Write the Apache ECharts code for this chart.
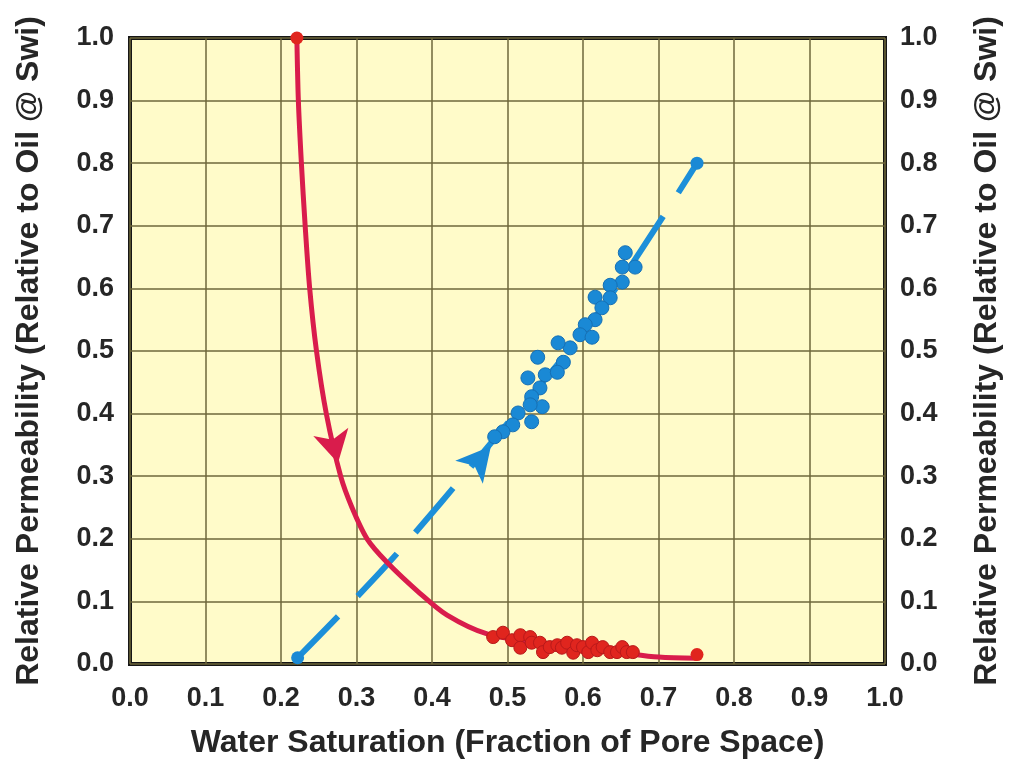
<!DOCTYPE html>
<html>
<head>
<meta charset="utf-8">
<script src="https://cdn.jsdelivr.net/npm/echarts@6/dist/echarts.min.js"></script>
<style>
    html, body { margin: 0; padding: 0; background: #ffffff; }
    #relperm { width: 1009px; height: 766px; }
</style>
</head>
<body>
<div id="relperm"></div>
<script>
// oil (red) curve [Sw, kr]
var oilCurve = [[0.221, 1.0], [0.223, 0.9], [0.227, 0.8], [0.232, 0.7], [0.238, 0.6], [0.247, 0.5],
    [0.260, 0.4], [0.279, 0.3], [0.294, 0.25], [0.314, 0.20], [0.340, 0.163], [0.384, 0.113],
    [0.420, 0.078], [0.473, 0.048], [0.55, 0.032], [0.65, 0.018], [0.70, 0.011], [0.751, 0.009]];
var oilEnds = [[0.221, 1.0], [0.751, 0.015]];
var oilPoints = [[0.481, 0.043], [0.494, 0.050], [0.506, 0.038], [0.517, 0.046], [0.517, 0.026],
    [0.530, 0.043], [0.532, 0.034], [0.543, 0.034], [0.547, 0.019], [0.556, 0.027], [0.566, 0.030],
    [0.572, 0.026], [0.579, 0.034], [0.587, 0.018], [0.592, 0.030], [0.600, 0.027], [0.607, 0.019],
    [0.612, 0.034], [0.619, 0.022], [0.626, 0.027], [0.636, 0.019], [0.645, 0.019], [0.652, 0.027],
    [0.658, 0.019], [0.666, 0.019]];
// water (blue) line and points
var waterLine = [[0.222, 0.01], [0.34, 0.158], [0.483, 0.36], [0.62, 0.56], [0.751, 0.80]];
var waterEnds = [[0.222, 0.01], [0.751, 0.80]];
var waterPoints = [[0.656, 0.657], [0.669, 0.634], [0.652, 0.634], [0.652, 0.610], [0.636, 0.605],
    [0.616, 0.586], [0.636, 0.585], [0.625, 0.569], [0.616, 0.550], [0.603, 0.542], [0.596, 0.526],
    [0.612, 0.522], [0.583, 0.505], [0.567, 0.513], [0.574, 0.482], [0.540, 0.490], [0.550, 0.462],
    [0.566, 0.466], [0.527, 0.457], [0.543, 0.441], [0.532, 0.427], [0.546, 0.411], [0.530, 0.414],
    [0.514, 0.401], [0.532, 0.387], [0.507, 0.382], [0.494, 0.371], [0.483, 0.363]];
// arrow heads along each curve (tip positions)
var oilArrow = [[0.2755, 0.321]];
var waterArrow = [[0.478, 0.348]];

var FONT = '"Liberation Sans", Arial, sans-serif';
var textColor = '#262626';

var chart = echarts.init(document.getElementById('relperm'));

function tickLabel(v) {
    return v.toFixed(1);
}

var yName = 'Relative Permeability (Relative to Oil @ Swi)';

var option = {
    animation: false,
    backgroundColor: '#ffffff',
    grid: {
        left: 130,
        right: 124,
        top: 38,
        bottom: 102,
        show: true,
        backgroundColor: '#FFFBC9',
        borderColor: '#161616',
        borderWidth: 4,
        outerBoundsMode: 'none'
    },
    xAxis: {
        type: 'value',
        min: 0,
        max: 1,
        interval: 0.1,
        name: 'Water Saturation (Fraction of Pore Space)',
        nameLocation: 'middle',
        nameGap: 63,
        nameTextStyle: { color: textColor, fontSize: 32, fontWeight: 'bold', fontFamily: FONT },
        axisLine: { show: false },
        axisTick: { show: false },
        axisLabel: { margin: 21, color: textColor, fontSize: 27, fontWeight: 'bold', fontFamily: FONT, formatter: tickLabel },
        splitLine: { lineStyle: { color: '#6e673a', width: 1.5 } }
    },
    yAxis: [{
        type: 'value',
        min: 0,
        max: 1,
        interval: 0.1,
        position: 'left',
        name: yName,
        nameLocation: 'middle',
        nameGap: 85,
        nameTextStyle: { color: textColor, fontSize: 32, fontWeight: 'bold', fontFamily: FONT },
        axisLine: { show: false },
        axisTick: { show: false },
        axisLabel: { margin: 16, color: textColor, fontSize: 27, fontWeight: 'bold', fontFamily: FONT, formatter: tickLabel },
        splitLine: { lineStyle: { color: '#6e673a', width: 1.5 } }
    }, {
        type: 'value',
        min: 0,
        max: 1,
        interval: 0.1,
        position: 'right',
        name: yName,
        nameLocation: 'middle',
        nameRotate: 90,
        nameGap: 86,
        nameTextStyle: { color: textColor, fontSize: 32, fontWeight: 'bold', fontFamily: FONT },
        axisLine: { show: false },
        axisTick: { show: false },
        axisLabel: { margin: 15, color: textColor, fontSize: 27, fontWeight: 'bold', fontFamily: FONT, formatter: tickLabel },
        splitLine: { show: false }
    }],
    series: [
        {
            name: 'water line',
            type: 'line',
            data: waterLine,
            smooth: 0.3,
            symbol: 'none',
            z: 2,
            lineStyle: { color: '#1C8FD9', width: 6, type: [58, 28], cap: 'butt' }
        },
        {
            name: 'water points',
            type: 'scatter',
            data: waterPoints,
            symbolSize: 14,
            z: 3,
            itemStyle: { color: '#1A89D5', borderColor: '#1670B5', borderWidth: 1, opacity: 1 }
        },
        {
            name: 'water ends',
            type: 'scatter',
            data: waterEnds,
            symbolSize: 13,
            z: 3,
            itemStyle: { color: '#1A89D5', opacity: 1 }
        },
        {
            name: 'water arrow',
            type: 'scatter',
            data: waterArrow,
            symbol: 'arrow',
            symbolSize: [27, 34],
            symbolRotate: -40,
            z: 3,
            itemStyle: { color: '#1A89D5', opacity: 1 }
        },
        {
            name: 'oil line',
            type: 'line',
            data: oilCurve,
            smooth: 0.3,
            symbol: 'none',
            z: 4,
            lineStyle: { color: '#D91C4C', width: 5 }
        },
        {
            name: 'oil points',
            type: 'scatter',
            data: oilPoints,
            symbolSize: 13,
            z: 5,
            itemStyle: { color: '#E0251E', borderColor: '#B8191A', borderWidth: 1, opacity: 1 }
        },
        {
            name: 'oil ends',
            type: 'scatter',
            data: oilEnds,
            symbolSize: 13,
            z: 5,
            itemStyle: { color: '#E0251E', opacity: 1 }
        },
        {
            name: 'oil arrow',
            type: 'scatter',
            data: oilArrow,
            symbol: 'arrow',
            symbolSize: [27, 32],
            symbolRotate: 193,
            z: 5,
            itemStyle: { color: '#D91C4C', opacity: 1 }
        }
    ]
};

chart.setOption(option);
</script>
</body>
</html>
